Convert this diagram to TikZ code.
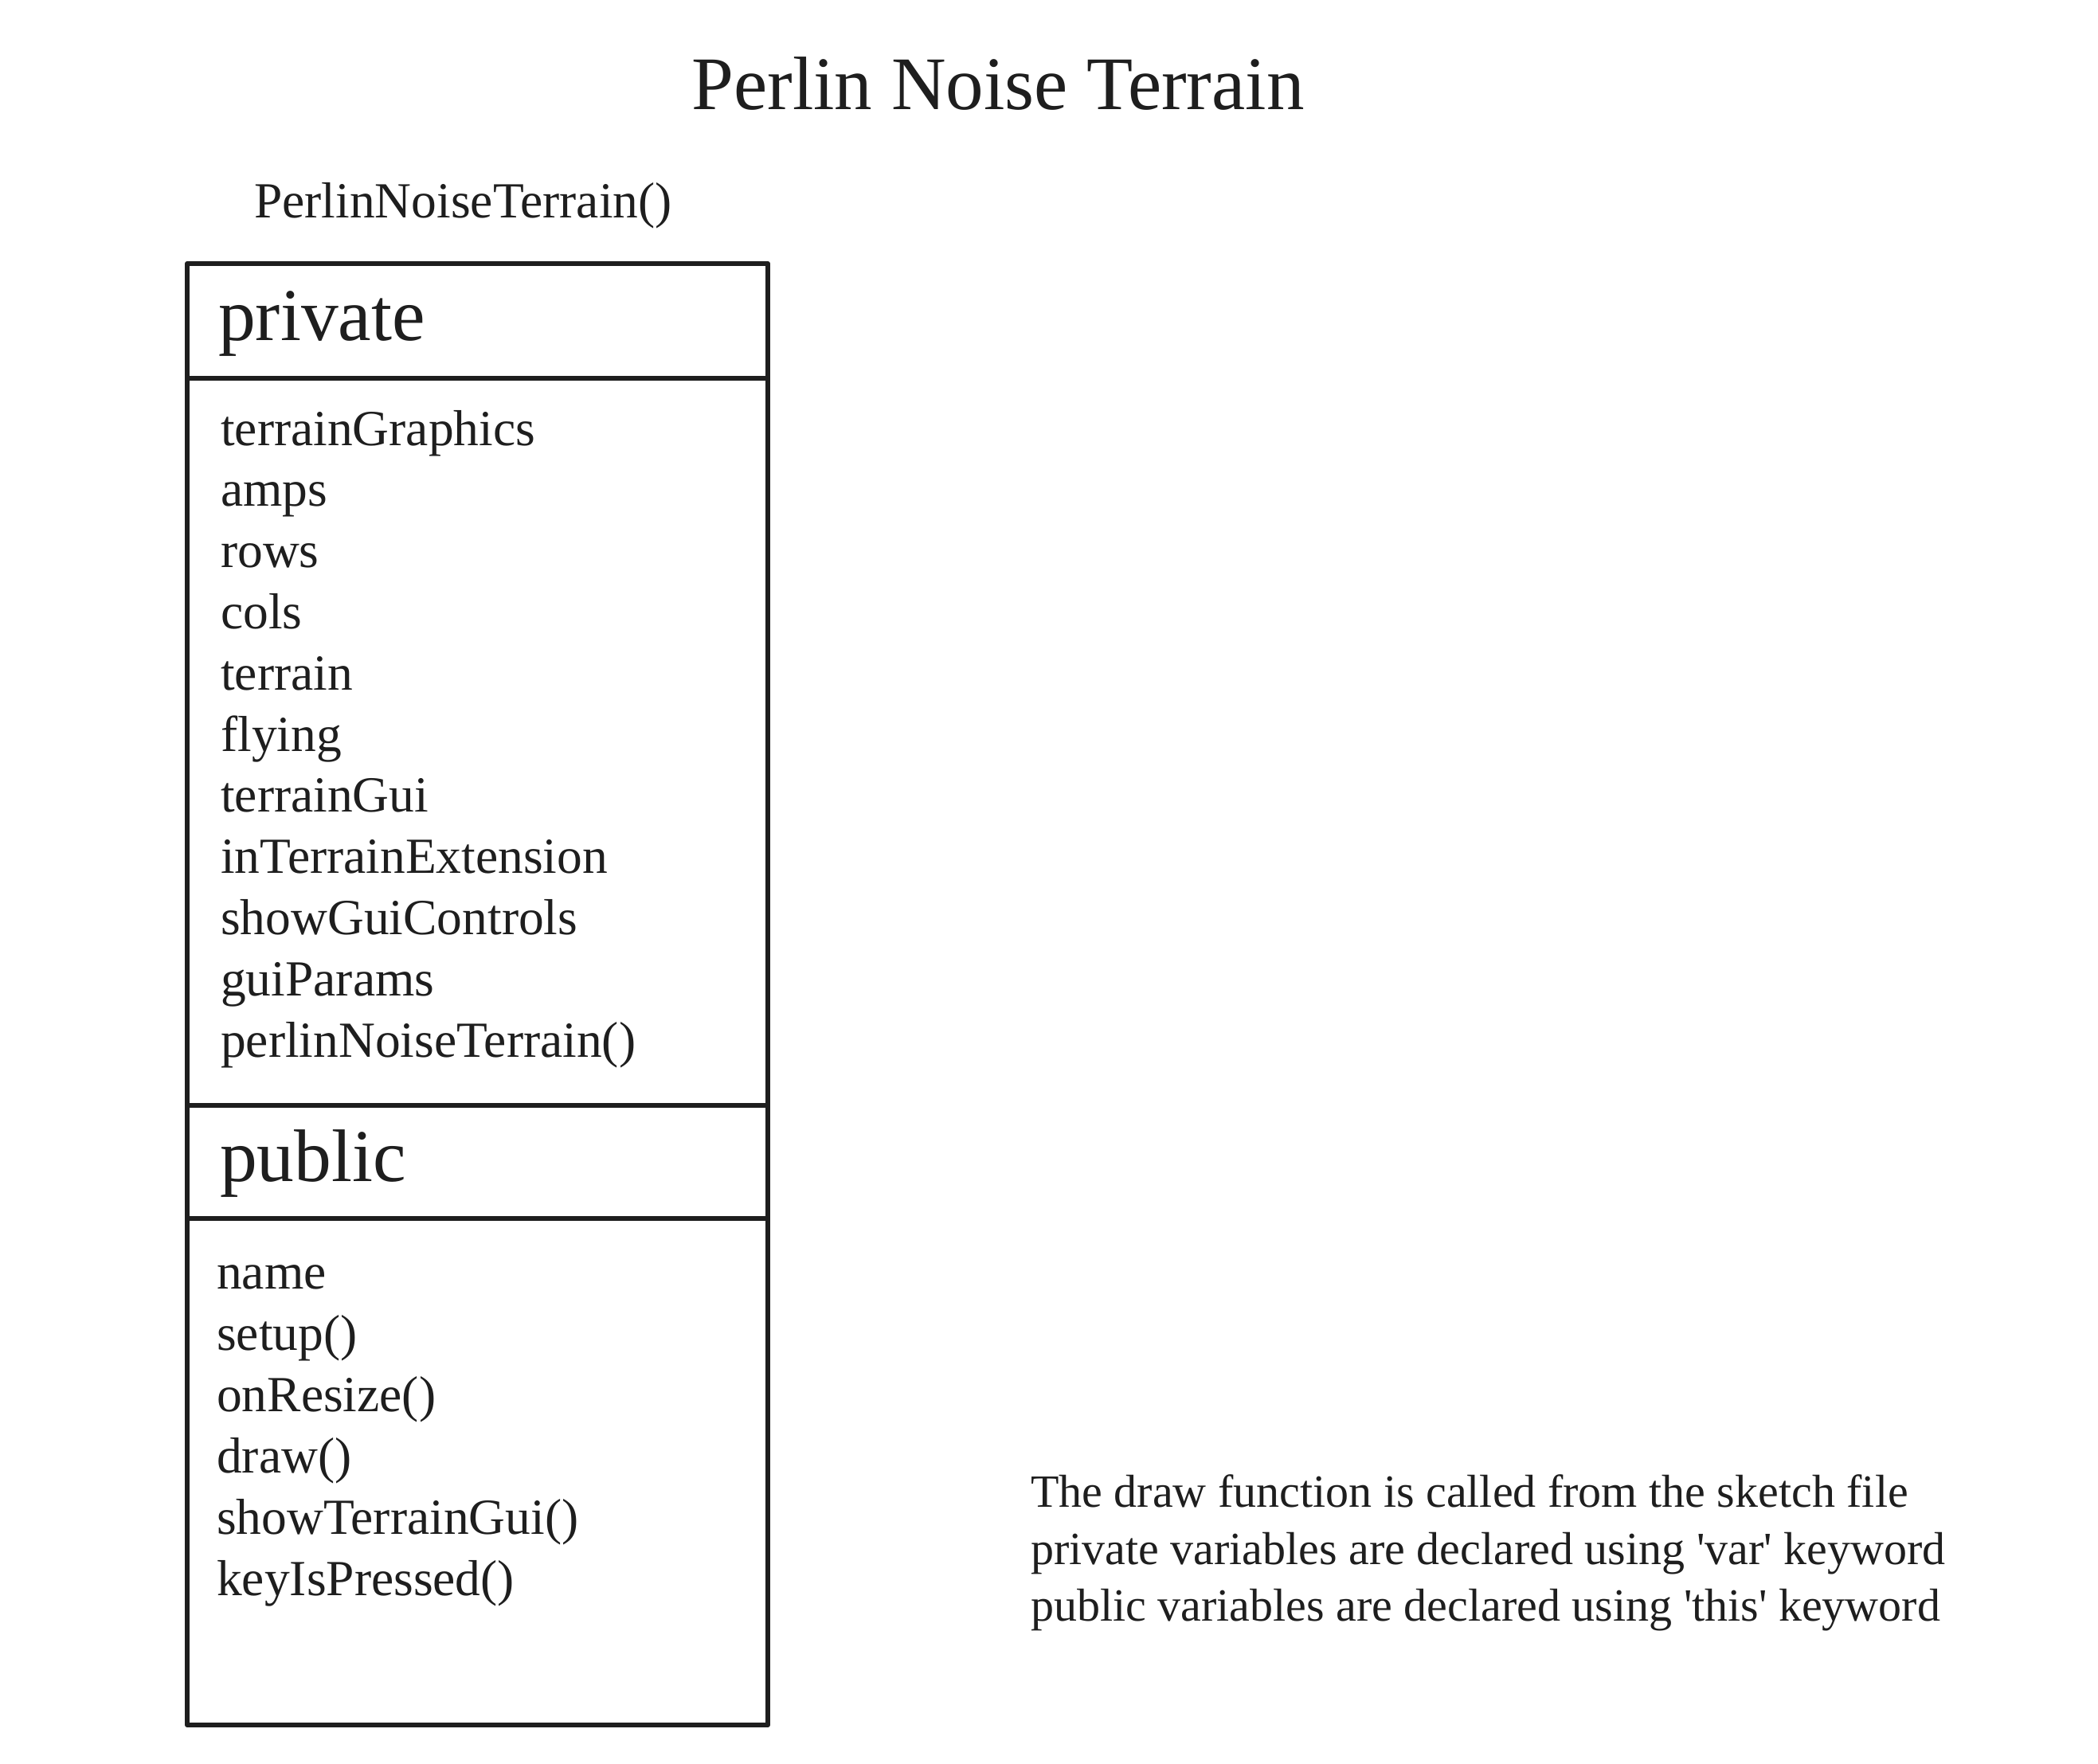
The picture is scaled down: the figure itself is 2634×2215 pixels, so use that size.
\documentclass[tikz,border=0pt]{standalone}
\usepackage{fontspec}
\setmainfont{Liberation Serif}[Ligatures=TeXOff]
\definecolor{ink}{HTML}{1E1E1E}
\begin{document}
\begin{tikzpicture}[x=1pt,y=-1pt,
  lbl/.style={anchor=base west,inner sep=0pt,text=ink},
  item/.style={lbl,font=\fontsize{63.5}{77}\selectfont},
  head/.style={lbl,font=\fontsize{93.5}{100}\selectfont},
  note/.style={lbl,font=\fontsize{58}{71}\selectfont},
  boxline/.style={draw=ink,line width=6pt,line join=round}]
\useasboundingbox[fill=white] (0,0) rectangle (2634,2215);
\node[anchor=base,inner sep=0pt,text=ink,font=\fontsize{95}{100}\selectfont] (title) at (1253,138) {Perlin Noise Terrain};
\node[item] (cname) at (319,274) {PerlinNoiseTerrain()};
% box
\coordinate (tl) at (235,331);
\coordinate (br) at (964,2166);
\draw[boxline] (tl) rectangle (br);
\coordinate (s1l) at (235,475); \coordinate (s1r) at (964,475);
\coordinate (s2l) at (235,1388); \coordinate (s2r) at (964,1388);
\coordinate (s3l) at (235,1530); \coordinate (s3r) at (964,1530);
\draw[boxline] (s1l) -- (s1r);
\draw[boxline] (s2l) -- (s2r);
\draw[boxline] (s3l) -- (s3r);
\node[head] (priv) at (274,428) {private};
\foreach \t [count=\i from 0] in {terrainGraphics,amps,rows,cols,terrain,flying,terrainGui,inTerrainExtension,showGuiControls,guiParams,perlinNoiseTerrain()}
  \node[item] (pv\i) at (277,559+76.8*\i) {\t};
\node[head] (pub) at (276,1483) {public};
\foreach \t [count=\i from 0] in {name,setup(),onResize(),draw(),showTerrainGui(),keyIsPressed()}
  \node[item] (pb\i) at (272,1618+77*\i) {\t};
\node[note] (n1) at (1294,1892) {The draw function is called from the sketch file};
\node[note] (n2) at (1294,1964) {private variables are declared using 'var' keyword};
\node[note] (n3) at (1294,2035) {public variables are declared using 'this' keyword};
\end{tikzpicture}
\end{document}
